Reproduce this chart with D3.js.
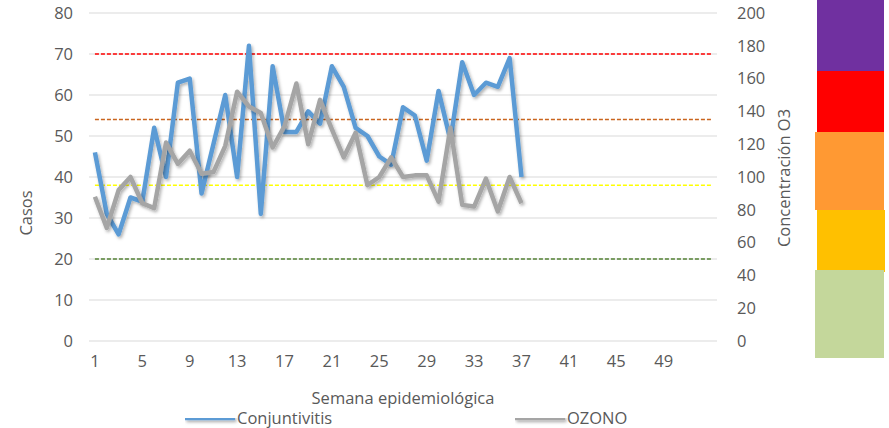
<!DOCTYPE html>
<html>
<head>
<meta charset="utf-8">
<script src="https://cdn.jsdelivr.net/npm/d3@7"></script>
<style>
  body { margin: 0; background: #fff; }
  svg { display: block; font-family: "Open Sans", sans-serif; }
</style>
</head>
<body>
<div id="chart"></div>
<script>
// weeks 1..53 on the category axis
const weeks = d3.range(1, 54);

// Conjuntivitis cases, weeks 1..37 (left axis)
const conjuntivitis = [46, 31, 26, 35, 34, 52, 40, 63, 64, 36, 48, 60, 40, 72, 31, 67, 51, 51, 56, 53,
  67, 62, 52, 50, 45, 43, 57, 55, 44, 61, 49, 68, 60, 63, 62, 69, 40];

// OZONO concentration, weeks 1..37 (right axis)
const ozono = [88, 69, 92, 100, 84, 81, 121, 108, 116, 102, 103, 119, 152, 143, 139, 118, 131, 157, 120, 147,
  129, 112, 127, 95, 100, 112, 100, 101, 101, 85, 130, 83, 82, 99, 79, 100, 84];

// O3 reference levels (right axis units)
const thresholds = [
  { value: 175, color: "#FF0000" },
  { value: 135, color: "#C9651E" },
  { value: 95, color: "#FFFF00" },
  { value: 50, color: "#548235" }
];

// colour key blocks at the right edge
const keyBlocks = [
  { x: 817, y: 0, w: 67, h: 71, color: "#7030A0" },
  { x: 817, y: 71, w: 67, h: 63, color: "#FF0000" },
  { x: 815, y: 132, w: 69, h: 78, color: "#FF9933" },
  { x: 817, y: 210, w: 68, h: 62, color: "#FFC000" },
  { x: 815, y: 270, w: 69, h: 88, color: "#C4D79B" }
];

const width = 889;
const height = 428;
const plotLeft = 89, plotRight = 717, plotTop = 13, plotBottom = 341;

const svg = d3.select("#chart")
  .append("svg")
  .attr("width", width)
  .attr("height", height);

const defs = svg.append("defs");
const shadow = defs.append("filter")
  .attr("id", "shadow")
  .attr("filterUnits", "userSpaceOnUse")
  .attr("x", 0).attr("y", 0)
  .attr("width", width).attr("height", height);
shadow.append("feDropShadow")
  .attr("dx", 1.5).attr("dy", 2)
  .attr("stdDeviation", 1.5)
  .attr("flood-color", "#000")
  .attr("flood-opacity", 0.3);

// scales
const x = d3.scaleBand().domain(weeks).range([plotLeft, plotRight]).padding(0);
const cx = w => x(w) + x.bandwidth() / 2;
const yL = d3.scaleLinear().domain([0, 80]).range([plotBottom, plotTop]);
const yR = d3.scaleLinear().domain([0, 200]).range([plotBottom, plotTop]);

// colour key
svg.append("g")
  .selectAll("rect")
  .data(keyBlocks)
  .join("rect")
  .attr("x", d => d.x)
  .attr("y", d => d.y)
  .attr("width", d => d.w)
  .attr("height", d => d.h)
  .attr("fill", d => d.color);

// gridlines
svg.append("g")
  .selectAll("line")
  .data(yL.ticks(8))
  .join("line")
  .attr("x1", plotLeft)
  .attr("x2", plotRight)
  .attr("y1", d => yL(d))
  .attr("y2", d => yL(d))
  .attr("stroke", "#D9D9D9")
  .attr("stroke-width", 1);

// axes
const tickColor = "#595959";

const axisLeft = svg.append("g")
  .attr("transform", `translate(${plotLeft - 16},0)`)
  .call(d3.axisLeft(yL).ticks(8).tickSize(0).tickPadding(0));

const axisRight = svg.append("g")
  .attr("transform", `translate(${plotRight + 20},0)`)
  .call(d3.axisRight(yR).ticks(10).tickSize(0).tickPadding(0));

const axisBottom = svg.append("g")
  .attr("transform", `translate(0,${plotBottom + 14})`)
  .call(d3.axisBottom(x).tickValues(weeks.filter(w => (w - 1) % 4 === 0 && w < 53)).tickSize(0).tickPadding(0));

[axisLeft, axisRight, axisBottom].forEach(g => {
  g.select(".domain").remove();
  g.selectAll("text")
    .attr("font-family", "Open Sans, sans-serif")
    .attr("font-size", 16.5)
    .attr("fill", tickColor);
});

// threshold lines
const thrLine = d3.line().x(d => cx(d.week)).y(d => yR(d.value));
svg.append("g")
  .selectAll("path")
  .data(thresholds)
  .join("path")
  .attr("d", t => thrLine(weeks.map(w => ({ week: w, value: t.value }))))
  .attr("fill", "none")
  .attr("stroke", t => t.color)
  .attr("stroke-width", 1.5)
  .attr("stroke-dasharray", "4,2");

// series
const lineL = d3.line().x((d, i) => cx(weeks[i])).y(d => yL(d));
const lineR = d3.line().x((d, i) => cx(weeks[i])).y(d => yR(d));

svg.append("path")
  .datum(conjuntivitis)
  .attr("d", lineL)
  .attr("fill", "none")
  .attr("stroke", "#5B9BD5")
  .attr("stroke-width", 4.5)
  .attr("stroke-linejoin", "round")
  .attr("filter", "url(#shadow)");

svg.append("path")
  .datum(ozono)
  .attr("d", lineR)
  .attr("fill", "none")
  .attr("stroke", "#A5A5A5")
  .attr("stroke-width", 4.5)
  .attr("stroke-linejoin", "round")
  .attr("filter", "url(#shadow)");

// axis titles
svg.append("text")
  .attr("transform", `translate(32,213) rotate(-90)`)
  .attr("text-anchor", "middle")
  .attr("font-size", 16.5)
  .attr("fill", tickColor)
  .text("Casos");

svg.append("text")
  .attr("transform", `translate(790,178) rotate(-90)`)
  .attr("text-anchor", "middle")
  .attr("font-size", 16.5)
  .attr("fill", tickColor)
  .text("Concentración O3");

svg.append("text")
  .attr("x", (plotLeft + plotRight) / 2)
  .attr("y", 404)
  .attr("text-anchor", "middle")
  .attr("font-size", 16.5)
  .attr("fill", tickColor)
  .text("Semana epidemiológica");

// legend
const legendData = [
  { label: "Conjuntivitis", color: "#5B9BD5", x: 185 },
  { label: "OZONO", color: "#A5A5A5", x: 515 }
];

const legendItem = svg.append("g")
  .selectAll("g")
  .data(legendData)
  .join("g")
  .attr("transform", d => `translate(${d.x},418)`);

legendItem.append("line")
  .attr("x1", 0)
  .attr("x2", 50)
  .attr("stroke", d => d.color)
  .attr("stroke-width", 4.5)
  .attr("filter", "url(#shadow)");

legendItem.append("text")
  .attr("x", 52)
  .attr("y", 6)
  .attr("font-size", 16.5)
  .attr("fill", tickColor)
  .text(d => d.label);
</script>
</body>
</html>
